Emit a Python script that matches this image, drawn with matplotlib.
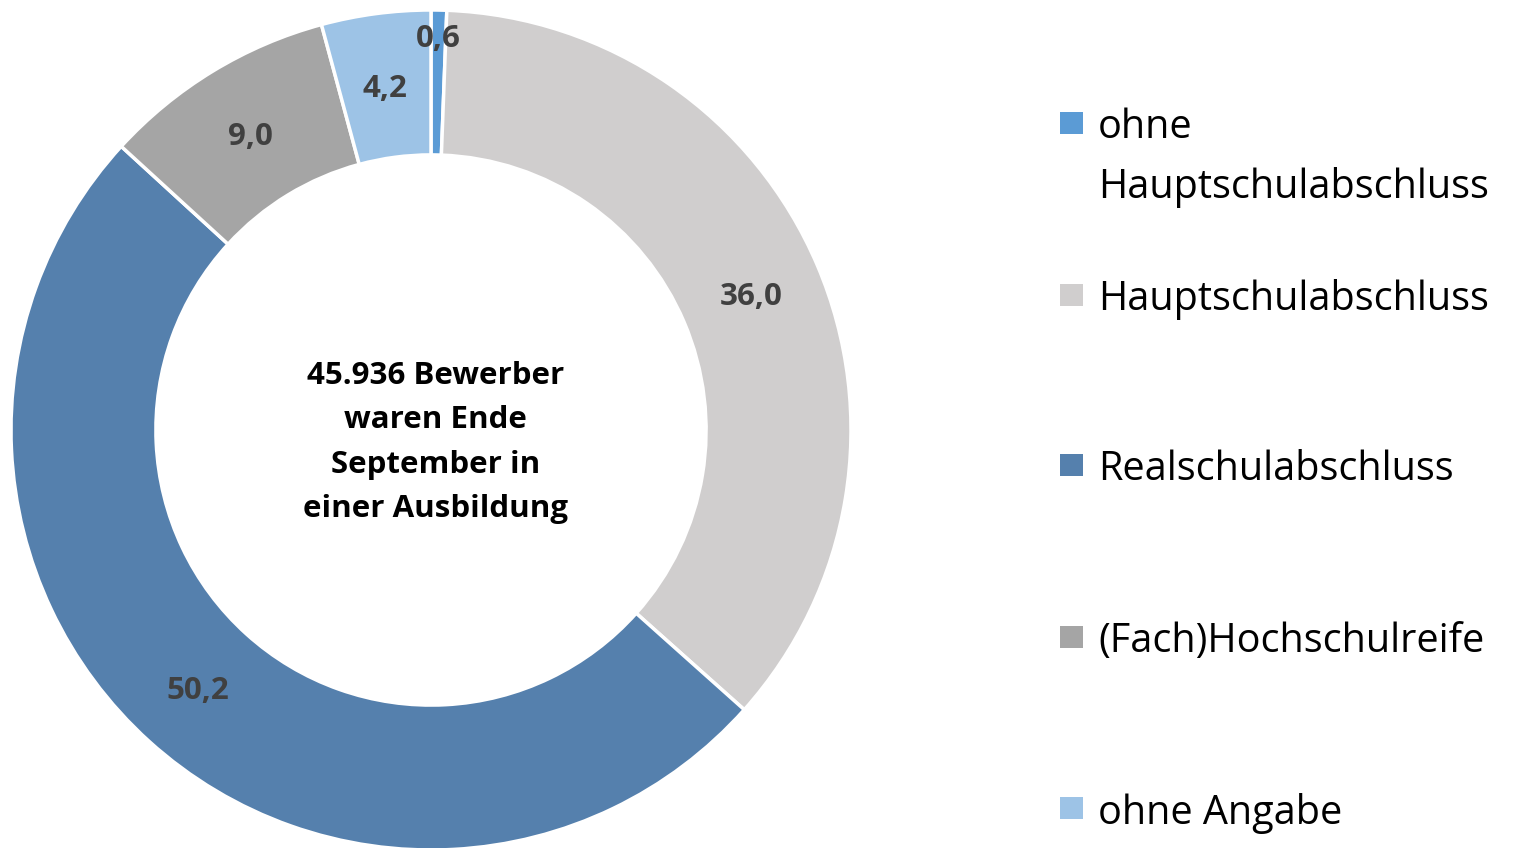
import matplotlib
matplotlib.use("Agg")
import matplotlib.pyplot as plt
from matplotlib.patches import Rectangle
import numpy as np

categories = ["ohne\nHauptschulabschluss", "Hauptschulabschluss", "Realschulabschluss",
              "(Fach)Hochschulreife", "ohne Angabe"]
values = [0.6, 36.0, 50.2, 9.0, 4.2]
value_labels = ["0,6", "36,0", "50,2", "9,0", "4,2"]
colors = ["#5B9BD5", "#D0CECE", "#5580AD", "#A5A5A5", "#9DC3E6"]
center_text = "45.936 Bewerber\nwaren Ende\nSeptember in\neiner Ausbildung"

plt.rcParams['font.family'] = ['Open Sans', 'DejaVu Sans']

W, H = 1513, 848
fig = plt.figure(figsize=(W / 100, H / 100), dpi=100)
fig.patch.set_facecolor("white")

# donut axes: center (431,430) px, radius 420 px
cx, cy, R = 431, 430, 420
ax = fig.add_axes([(cx - R) / W, (H - cy - R) / H, 2 * R / W, 2 * R / H])
ring = 0.345
wedges, _ = ax.pie(values, colors=colors, startangle=90, counterclock=False,
                   radius=1.0, wedgeprops=dict(width=ring, edgecolor="white", linewidth=2.5))
ax.set_xlim(-1, 1)
ax.set_ylim(-1, 1)
ax.set_aspect("equal")
ax.axis("off")

# data labels
for i, w in enumerate(wedges):
    ang = np.deg2rad((w.theta1 + w.theta2) / 2)
    r = 1 - ring / 2
    if values[i] < 2:
        r = 0.94
    ax.text(r * np.cos(ang), r * np.sin(ang), value_labels[i], ha="center",
            va="center_baseline", fontsize=22.5, fontweight="bold", color="#404040")

ax.text(0.01, -0.03, center_text, ha="center", va="center", fontsize=22.5,
        fontweight="bold", color="black", linespacing=1.62)

# legend drawn manually
first_y = [123, 295, 465, 637, 808]
line_gap = 60
for i, lab in enumerate(categories):
    y = first_y[i]
    fig.patches.append(Rectangle((1060 / W, (H - y - 11) / H), 23 / W, 22 / H,
                                 transform=fig.transFigure, facecolor=colors[i],
                                 edgecolor="none"))
    for j, line in enumerate(lab.split("\n")):
        fig.text(1098 / W, (H - y - j * line_gap) / H, line, ha="left",
                 va="center_baseline", fontsize=28.5, color="black")

fig.savefig("out.png", dpi=100)
